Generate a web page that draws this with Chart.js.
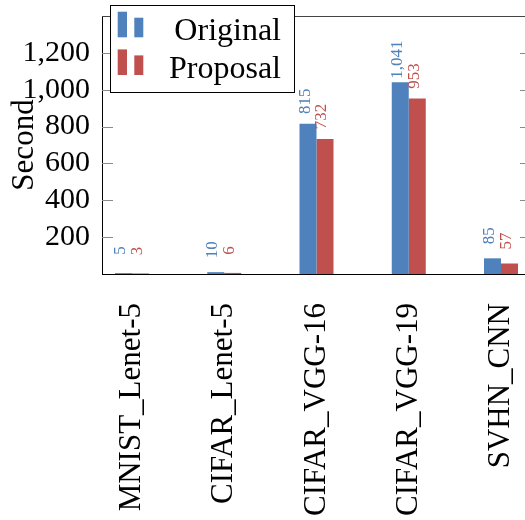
<!DOCTYPE html>
<html>
<head>
<meta charset="utf-8">
<script src="https://cdn.jsdelivr.net/npm/chart.js@4/dist/chart.umd.min.js"></script>
<style>
  html, body { margin: 0; padding: 0; background: #fff; overflow: hidden; }
  #wrap { position: absolute; left: 0; top: 0; width: 545px; height: 520px; }
</style>
</head>
<body>
<div id="wrap"><canvas id="c" width="545" height="520"></canvas></div>
<script>
// Training time per model, in seconds
const categories = ['MNIST_Lenet-5', 'CIFAR_Lenet-5', 'CIFAR_VGG-16', 'CIFAR_VGG-19', 'SVHN_CNN'];
const seriesNames = ['Original', 'Proposal'];
const originalValues = [5, 10, 815, 1041, 85];
const proposalValues = [3, 6, 732, 953, 57];
const yTicks = [200, 400, 600, 800, 1000, 1200];

const BLUE = '#4F81BD';
const RED = '#C0504D';
const SERIF = '"Liberation Serif", "DejaVu Serif", serif';

const fmt = v => v.toLocaleString('en-US');

// Inward tick marks on left and right, plus the top frame line
const framePlugin = {
  id: 'frame',
  afterDatasetsDraw(chart) {
    const { ctx, chartArea: a, scales } = chart;
    ctx.save();
    ctx.strokeStyle = '#8a8a8a';
    ctx.lineWidth = 1;
    yTicks.forEach(v => {
      const y = Math.round(scales.y.getPixelForValue(v)) + 0.5;
      ctx.beginPath();
      ctx.moveTo(a.left, y); ctx.lineTo(a.left + 11, y);
      ctx.moveTo(a.right - 11, y); ctx.lineTo(a.right, y);
      ctx.stroke();
    });
    ctx.strokeStyle = '#444';
    ctx.beginPath();
    ctx.moveTo(a.left, Math.round(a.top) + 0.5);
    ctx.lineTo(a.right, Math.round(a.top) + 0.5);
    ctx.stroke();
    ctx.restore();
  }
};

// Rotated value labels above each bar
const valueLabels = {
  id: 'valueLabels',
  afterDatasetsDraw(chart) {
    const { ctx } = chart;
    ctx.save();
    ctx.font = '17px ' + SERIF;
    ctx.textAlign = 'center';
    ctx.textBaseline = 'alphabetic';
    chart.data.datasets.forEach((ds, di) => {
      const meta = chart.getDatasetMeta(di);
      meta.data.forEach((bar, i) => {
        const v = ds.data[i].y;
        ctx.save();
        ctx.fillStyle = ds.backgroundColor;
        ctx.translate(bar.x + 1.5, bar.y - 22.5);
        ctx.rotate(-Math.PI / 2);
        ctx.fillText(fmt(v), 0, 0);
        ctx.restore();
      });
    });
    ctx.restore();
  }
};

// Boxed legend with two-bar glyphs and right-aligned names
const boxLegend = {
  id: 'boxLegend',
  afterDraw(chart) {
    const { ctx } = chart;
    ctx.save();
    ctx.fillStyle = '#fff';
    ctx.fillRect(110, 5, 185, 88);
    ctx.strokeStyle = '#000';
    ctx.lineWidth = 1;
    ctx.strokeRect(110.5, 5.5, 184, 87);
    ctx.font = '32px ' + SERIF;
    ctx.textAlign = 'right';
    ctx.textBaseline = 'alphabetic';
    chart.data.datasets.forEach((ds, i) => {
      const base = 37.3 + i * 37.7;
      ctx.fillStyle = ds.backgroundColor;
      ctx.fillRect(117.7, base - 25.6, 9.3, 25.6);
      ctx.fillRect(134.3, base - 19.6, 9, 19.6);
      ctx.fillStyle = '#000';
      ctx.fillText(ds.label, 281, base + 3);
    });
    ctx.restore();
  }
};

const toPoints = arr => arr.map((v, i) => ({ x: i, y: v }));

new Chart(document.getElementById('c'), {
  type: 'bar',
  data: {
    datasets: [
      { label: seriesNames[0], data: toPoints(originalValues), backgroundColor: BLUE, borderWidth: 0,
        categoryPercentage: 0.3685, barPercentage: 1 },
      { label: seriesNames[1], data: toPoints(proposalValues), backgroundColor: RED, borderWidth: 0,
        categoryPercentage: 0.3685, barPercentage: 1 }
    ]
  },
  options: {
    responsive: false,
    animation: false,
    devicePixelRatio: 1,
    layout: { padding: { left: 0, right: 14, top: 16, bottom: 0 } },
    plugins: { legend: { display: false }, tooltip: { enabled: false } },
    scales: {
      x: {
        type: 'linear',
        offset: false,
        min: -0.325,
        max: 4.325,
        afterBuildTicks: s => { s.ticks = categories.map((_, i) => ({ value: i })); },
        afterFit: s => { s.height = 246; s.paddingLeft = 0; s.paddingRight = 0; },
        grid: { display: false, drawTicks: false },
        border: { display: true, color: '#000', width: 1 },
        ticks: {
          autoSkip: false,
          minRotation: 90,
          maxRotation: 90,
          padding: 29,
          color: '#000',
          font: { family: SERIF, size: 31 },
          callback: v => categories[v] ?? ''
        }
      },
      y: {
        min: 0,
        max: 1400,
        afterBuildTicks: s => { s.ticks = yTicks.map(v => ({ value: v })); },
        afterFit: s => { s.width = 102; s.paddingTop = 0; s.paddingBottom = 0; },
        grid: { display: false, drawTicks: false },
        border: { display: true, color: '#000', width: 1 },
        ticks: {
          padding: 12,
          color: '#000',
          font: { family: SERIF, size: 30 },
          callback: v => fmt(v)
        },
        title: {
          display: true,
          text: 'Second',
          color: '#000',
          font: { family: SERIF, size: 31 },
          padding: { top: 6, bottom: 0 }
        }
      }
    }
  },
  plugins: [framePlugin, valueLabels, boxLegend]
});
</script>
</body>
</html>
